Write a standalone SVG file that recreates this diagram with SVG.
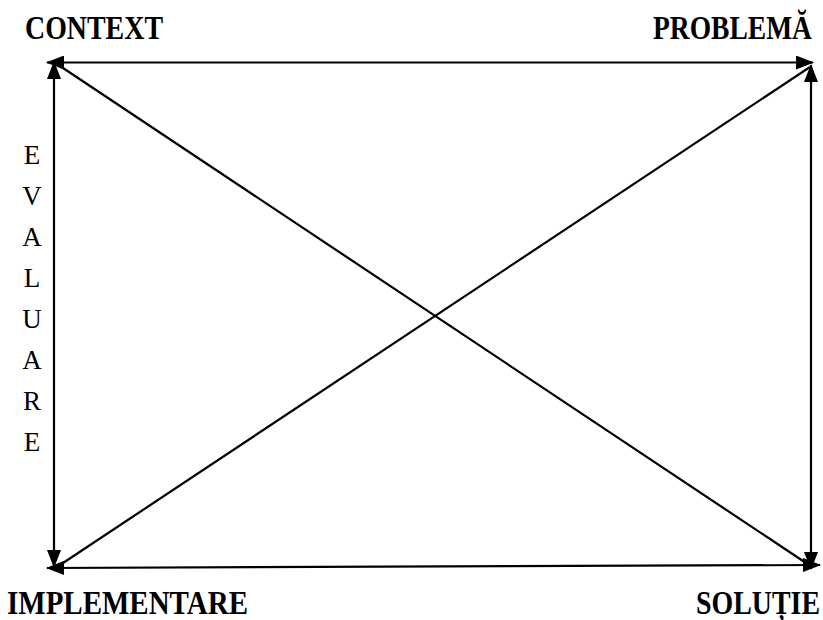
<svg xmlns="http://www.w3.org/2000/svg" width="823" height="620" viewBox="0 0 823 620">
<style>
.lbl{font-family:"Liberation Serif","DejaVu Serif",serif;font-weight:bold;font-size:34px;fill:#000}
.ev{font-family:"Liberation Serif","DejaVu Serif",serif;font-size:27px;fill:#000}
.ln{stroke:#000;stroke-width:2.2;fill:none}
</style>
<defs>
<marker id="ah" markerUnits="userSpaceOnUse" markerWidth="18" markerHeight="14" refX="17" refY="7" orient="auto-start-reverse" viewBox="0 0 18 14">
<path d="M0,0 L18,7 L0,14 Z" fill="#000"/>
</marker>
</defs>
<rect width="823" height="620" fill="#fff"/>
<g id="connectors">
<line class="ln" x1="47" y1="62.5" x2="813" y2="62.5" marker-start="url(#ah)" marker-end="url(#ah)"/>
<line class="ln" x1="54" y1="62" x2="54" y2="567" marker-start="url(#ah)" marker-end="url(#ah)"/>
<line class="ln" x1="811" y1="65" x2="811" y2="569" marker-start="url(#ah)" marker-end="url(#ah)"/>
<line class="ln" x1="47" y1="568" x2="820" y2="565" marker-start="url(#ah)" marker-end="url(#ah)"/>
<line class="ln" x1="57" y1="64" x2="809" y2="565"/>
<line class="ln" x1="57" y1="567" x2="810" y2="67"/>
</g>
<g id="context"><text class="lbl" x="25" y="39" textLength="138" lengthAdjust="spacingAndGlyphs">CONTEXT</text></g>
<g id="problema"><text class="lbl" x="653" y="39" textLength="159" lengthAdjust="spacingAndGlyphs">PROBLEMĂ</text></g>
<g id="implementare"><text class="lbl" x="7" y="614" textLength="241" lengthAdjust="spacingAndGlyphs">IMPLEMENTARE</text></g>
<g id="solutie"><text class="lbl" x="696" y="614" textLength="124" lengthAdjust="spacingAndGlyphs">SOLUȚIE</text></g>
<g id="evaluare" text-anchor="middle">
<text class="ev" x="32" y="164">E</text>
<text class="ev" x="32" y="205">V</text>
<text class="ev" x="32" y="246">A</text>
<text class="ev" x="32" y="287">L</text>
<text class="ev" x="32" y="328">U</text>
<text class="ev" x="32" y="369">A</text>
<text class="ev" x="32" y="410">R</text>
<text class="ev" x="32" y="451">E</text>
</g>
</svg>
